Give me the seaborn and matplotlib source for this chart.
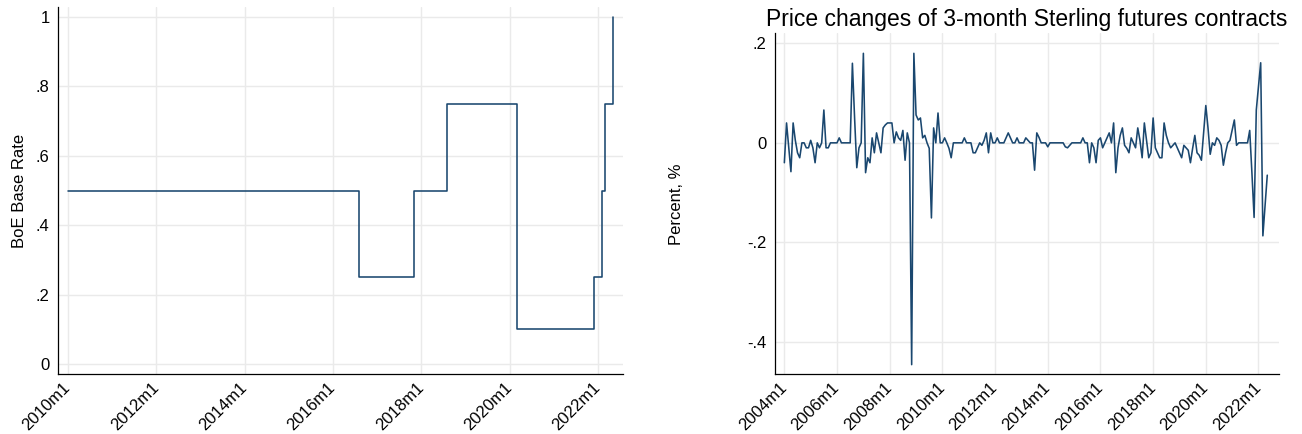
import numpy as np
import pandas as pd
import matplotlib.pyplot as plt
import seaborn as sns

# BoE base rate: month of each change and the new rate
rate_months = ["2010m1", "2016m8", "2017m11", "2018m8", "2020m3",
               "2021m12", "2022m2", "2022m3", "2022m5"]
rate_values = [0.5, 0.25, 0.5, 0.75, 0.1, 0.25, 0.5, 0.75, 1.0]

# monthly price changes of 3-month Sterling futures, from 2004m1
futures_start = "2004m1"
futures_changes = [
    -0.04, 0.04, -0.01, -0.058, 0.04, 0.005, -0.02, -0.03, 0, 0, -0.01, -0.01,
    0.005, -0.01, -0.04, 0, -0.01, 0, 0.066, -0.01, -0.01, 0, 0, 0,
    0, 0.01, 0, 0, 0, 0, 0, 0.16, 0.05, -0.05, -0.01, 0,
    0.18, -0.06, -0.03, -0.04, 0.01, -0.02, 0.02, 0, -0.02, 0.03, 0.036, 0.04,
    0.04, 0.04, 0, 0.022, 0.01, 0.005, 0.025, -0.035, 0.02, 0, -0.446, 0.18,
    0.056, 0.046, 0.05, 0.01, 0.015, 0, -0.011, -0.151, 0.03, 0, 0.06, 0,
    0, 0.01, 0, -0.011, -0.03, 0, 0, 0, 0, 0, 0.01, 0,
    0, 0, -0.02, -0.02, -0.01, 0, -0.005, 0.005, 0.02, -0.02, 0.02, 0,
    0, 0.01, 0, 0, 0, 0.01, 0.02, 0.01, 0, 0, 0.01, 0,
    0, 0, 0.01, 0.005, 0, 0, -0.055, 0.02, 0.011, 0, 0, 0,
    -0.008, 0, 0, 0, 0, 0, 0, 0, -0.008, -0.01, -0.005, 0,
    0, 0, 0, 0, 0.01, 0, 0, -0.04, 0, -0.01, -0.04, 0.005,
    0.01, -0.01, 0, 0.01, 0.02, 0, 0.04, -0.06, -0.01, 0.015, 0.03, -0.005,
    -0.011, -0.02, 0.01, 0, -0.01, 0.03, 0.005, -0.03, 0.04, 0.005, -0.03, -0.02,
    0.05, -0.01, -0.02, -0.03, -0.03, 0.04, 0.015, 0, -0.01, -0.005, 0, -0.01,
    -0.02, -0.03, -0.005, -0.01, -0.015, -0.04, -0.011, 0.015, -0.02, -0.025, -0.035, 0.02,
    0.075, 0.03, -0.023, 0, -0.005, 0.01, 0.005, -0.005, -0.045, -0.02, 0, 0.005,
    0.025, 0.046, -0.005, 0, 0, 0, 0, 0, 0.025, -0.06, -0.15, 0.066,
    0.113, 0.161, -0.187, -0.126, -0.065,
]

left_xticks = ["2010m1", "2012m1", "2014m1", "2016m1", "2018m1", "2020m1", "2022m1"]
left_yticks = [0, 0.2, 0.4, 0.6, 0.8, 1]
left_yticklabels = ["0", ".2", ".4", ".6", ".8", "1"]
right_xticks = ["2004m1", "2006m1", "2008m1", "2010m1", "2012m1", "2014m1",
                "2016m1", "2018m1", "2020m1", "2022m1"]
right_yticks = [-0.4, -0.2, 0, 0.2]
right_yticklabels = ["-.4", "-.2", "0", ".2"]


def stata_month(s):
    y, m = s.split("m")
    return (int(y) - 1960) * 12 + int(m) - 1


df_rate = pd.DataFrame({"month": [stata_month(s) for s in rate_months],
                        "rate": rate_values})
start = stata_month(futures_start)
df_fut = pd.DataFrame({"month": start + np.arange(len(futures_changes)),
                       "change": futures_changes})

sns.set_style("white")
plt.rcParams["font.family"] = ["Liberation Sans", "DejaVu Sans"]
plt.rcParams["text.color"] = "black"
plt.rcParams["axes.labelcolor"] = "black"

navy = "#1a476f"
grid_c = "#eaeaea"

fig = plt.figure(figsize=(13.02, 4.34), dpi=100)
ax1 = fig.add_axes([0.0445, 0.138, 0.434, 0.846])
ax2 = fig.add_axes([0.595, 0.138, 0.3876, 0.785])

sns.lineplot(data=df_rate, x="month", y="rate", ax=ax1, color=navy,
             linewidth=1.15, drawstyle="steps-post", estimator=None)
sns.lineplot(data=df_fut, x="month", y="change", ax=ax2, color=navy,
             linewidth=1.15, estimator=None)


def style_axis(ax, xticks, yticks, yticklabels):
    ax.set_xticks([stata_month(s) for s in xticks])
    ax.set_xticklabels(xticks, rotation=45, ha="right", va="center",
                       rotation_mode="anchor")
    ax.set_yticks(yticks)
    ax.set_yticklabels(yticklabels)
    ax.grid(True, color=grid_c, linewidth=1.0)
    ax.set_axisbelow(True)
    for side in ["top", "right"]:
        ax.spines[side].set_visible(False)
    for side in ["left", "bottom"]:
        ax.spines[side].set_color("black")
        ax.spines[side].set_linewidth(0.9)
    ax.tick_params(axis="both", direction="out", length=4, width=0.8,
                   color="#444444", labelsize=12, labelcolor="black")
    ax.tick_params(axis="x", pad=4)
    ax.tick_params(axis="y", pad=2)


style_axis(ax1, left_xticks, left_yticks, left_yticklabels)
style_axis(ax2, right_xticks, right_yticks, right_yticklabels)

m10 = stata_month("2010m1")
ax1.set_xlim(m10 - 2.7, m10 + 150.8)
ax1.set_ylim(-0.0288, 1.029)
ax1.set_xlabel("")
ax1.set_ylabel("BoE Base Rate", fontsize=12)
ax1.yaxis.set_label_coords(-0.055, 0.5)

ax2.set_xlim(start - 4.4, start + 225.5)
ax2.set_ylim(-0.465, 0.22)
ax2.set_xlabel("")
ax2.set_ylabel("Percent, %", fontsize=12)
ax2.yaxis.set_label_coords(-0.18, 0.5)
ax2.set_title("Price changes of 3-month Sterling futures contracts",
              fontsize=16.5, pad=5, color="black")

fig.savefig("out.png", dpi=100)
